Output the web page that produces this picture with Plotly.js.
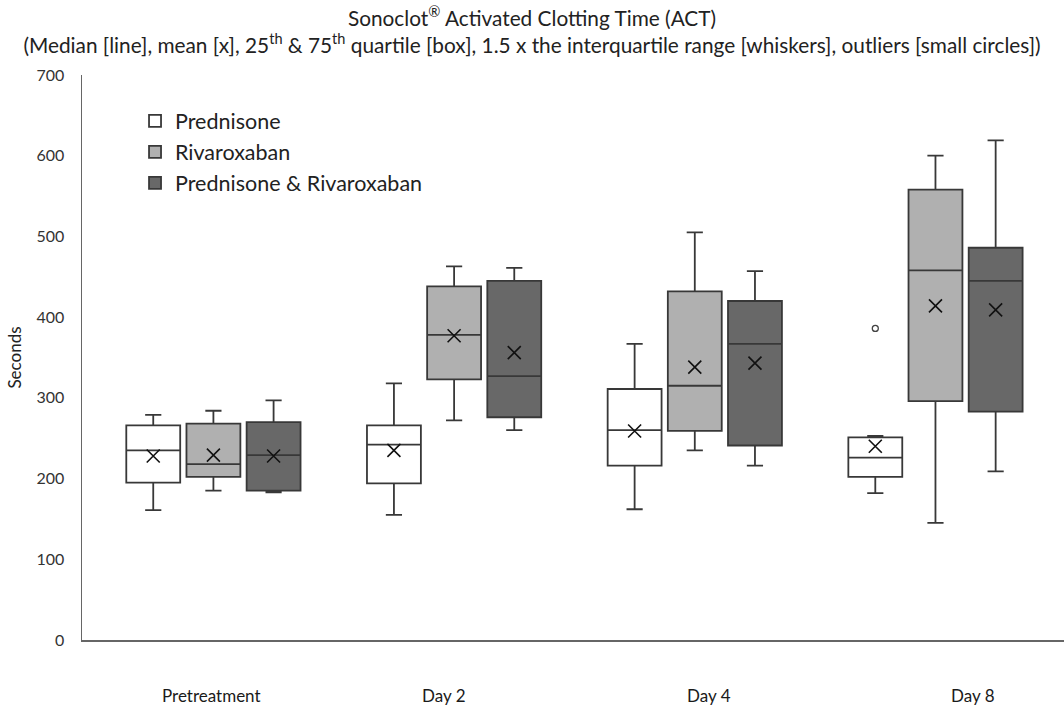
<!DOCTYPE html>
<html><head><meta charset="utf-8">
<script src="https://cdn.plot.ly/plotly-3.0.1.min.js"></script>
<style>body{margin:0;background:#fff}</style>
</head><body><div id="chart" style="width:1064px;height:706px"></div>
<script>
const categories = ['Pretreatment', 'Day 2', 'Day 4', 'Day 8'];
const seriesNames = ['Prednisone', 'Rivaroxaban', 'Prednisone & Rivaroxaban'];

// Prednisone
const prednisoneLower  = [161, 155, 162, 182];
const prednisoneQ1     = [195, 194, 216, 202];
const prednisoneMedian = [235, 242, 260, 226];
const prednisoneQ3     = [266, 266, 311, 251];
const prednisoneUpper  = [279, 318, 367, 253];
const prednisoneMean   = [228, 235, 259, 240];

// Rivaroxaban
const rivaroxabanLower  = [185, 272, 235, 145];
const rivaroxabanQ1     = [202, 323, 259, 296];
const rivaroxabanMedian = [218, 378, 315, 458];
const rivaroxabanQ3     = [268, 438, 432, 558];
const rivaroxabanUpper  = [284, 463, 505, 600];
const rivaroxabanMean   = [229, 377, 338, 414];

// Prednisone & Rivaroxaban
const comboLower  = [183, 260, 216, 209];
const comboQ1     = [185, 276, 241, 283];
const comboMedian = [229, 327, 367, 445];
const comboQ3     = [270, 445, 420, 486];
const comboUpper  = [297, 461, 457, 619];
const comboMean   = [228, 356, 343, 409];

// Outliers
const outlierCategory = ['Day 8'];
const outlierSeries   = ['Prednisone'];
const outlierValue    = [386];

const stats = [
  {low: prednisoneLower, q1: prednisoneQ1, med: prednisoneMedian, q3: prednisoneQ3, up: prednisoneUpper, mean: prednisoneMean},
  {low: rivaroxabanLower, q1: rivaroxabanQ1, med: rivaroxabanMedian, q3: rivaroxabanQ3, up: rivaroxabanUpper, mean: rivaroxabanMean},
  {low: comboLower, q1: comboQ1, med: comboMedian, q3: comboQ3, up: comboUpper, mean: comboMean}
];
const fills = ['#ffffff', '#b0b0b0', '#686868'];
const offsets = [-0.25, 0, 0.25];
const boxWidth = 0.224;

const traces = [];
seriesNames.forEach((name, s) => {
  const xs = categories.map((c, i) => i + offsets[s]);
  const st = stats[s];
  traces.push({
    type: 'box', name: name, legendgroup: 'g' + s,
    x: xs, q1: st.q1, median: st.med, q3: st.q3,
    lowerfence: st.low, upperfence: st.up,
    width: boxWidth, whiskerwidth: 0.3, boxpoints: false,
    fillcolor: fills[s], line: {color: '#383838', width: 1.8},
    hoverinfo: 'y'
  });
  traces.push({
    type: 'scatter', mode: 'markers', showlegend: false, legendgroup: 'g' + s,
    x: xs, y: st.mean,
    marker: {symbol: 'x-thin-open', size: 13, color: '#111111', line: {color: '#111111', width: 1.6}},
    hoverinfo: 'y'
  });
});
traces.push({
  type: 'scatter', mode: 'markers', showlegend: false,
  x: outlierCategory.map((c, k) => categories.indexOf(c) + offsets[seriesNames.indexOf(outlierSeries[k])]),
  y: outlierValue,
  marker: {symbol: 'circle-open', size: 6, color: '#444444', line: {color: '#444444', width: 1.3}},
  hoverinfo: 'y'
});

const labelShift = [-2, -10, 14, 38];
const annotations = categories.map((c, i) => ({
  text: c, x: i, xref: 'x', y: 0, yref: 'paper', yanchor: 'middle',
  yshift: -55, xshift: labelShift[i], showarrow: false,
  font: {family: 'Lato, sans-serif', size: 17, color: '#1a1a1a'}
}));

const layout = {
  width: 1064, height: 706,
  margin: {l: 82, r: 0, t: 75, b: 66},
  paper_bgcolor: '#ffffff', plot_bgcolor: '#ffffff',
  title: {
    text: 'Sonoclot<sup>®</sup> Activated Clotting Time (ACT)<br>(Median [line], mean [x], 25<sup>th</sup> &amp; 75<sup>th</sup> quartile [box], 1.5 x the interquartile range [whiskers], outliers [small circles])',
    x: 0.5, xref: 'container', xanchor: 'center',
    y: 1 - 26 / 706, yref: 'container', yanchor: 'middle',
    font: {family: 'Lato, sans-serif', size: 20.8, color: '#222222'}
  },
  xaxis: {
    range: [-0.546, 3.534], showticklabels: false, ticks: '',
    showgrid: false, zeroline: false, showline: true,
    linecolor: '#666666', linewidth: 1.5
  },
  yaxis: {
    range: [0, 700], tickvals: [0, 100, 200, 300, 400, 500, 600, 700],
    showgrid: false, zeroline: false, showline: true,
    linecolor: '#666666', linewidth: 1.5, ticks: '', ticklabelstandoff: 13,
    tickfont: {family: 'Lato, sans-serif', size: 16, color: '#333333'},
    title: {text: 'Seconds', standoff: 10, font: {family: 'Lato, sans-serif', size: 17, color: '#222222'}}
  },
  showlegend: true,
  legend: {
    x: 0.054, y: 0.955, xanchor: 'left', yanchor: 'top',
    bgcolor: 'rgba(0,0,0,0)', tracegroupgap: 0, traceorder: 'normal',
    font: {family: 'Lato, sans-serif', size: 21.5, color: '#222222'}
  },
  annotations: annotations
};

Plotly.newPlot('chart', traces, layout, {displayModeBar: false, staticPlot: true});
</script>
</body></html>
